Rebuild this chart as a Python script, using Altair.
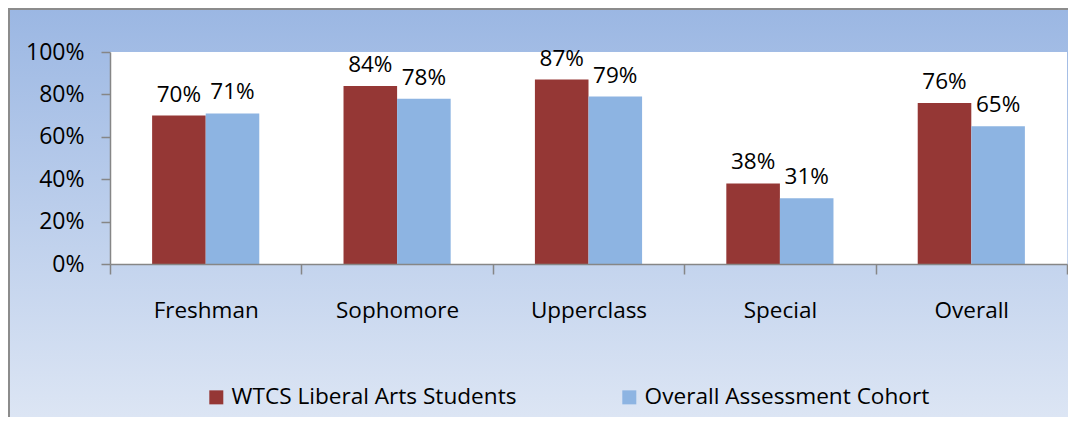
import altair as alt
import pandas as pd

categories = ["Freshman", "Sophomore", "Upperclass", "Special", "Overall"]
series = ["WTCS Liberal Arts Students", "Overall Assessment Cohort"]
wtcs = [0.70, 0.84, 0.87, 0.38, 0.76]
cohort = [0.71, 0.78, 0.79, 0.31, 0.65]
colors = ["#953735", "#8DB4E2"]
y_ticks = [0, 0.2, 0.4, 0.6, 0.8, 1.0]

rows = []
for c, a, b in zip(categories, wtcs, cohort):
    rows.append({"cat": c, "series": series[0], "value": a})
    rows.append({"cat": c, "series": series[1], "value": b})
df = pd.DataFrame(rows)

W, H = 957, 212
FONT = "Open Sans"
FS = 22.5

one = pd.DataFrame({"k": [0]})

bg = alt.Chart(one).mark_rect(
    fill=alt.Gradient(
        gradient="linear",
        stops=[alt.GradientStop(color="#9BB7E3", offset=0),
               alt.GradientStop(color="#E0E8F5", offset=1)],
        x1=0, x2=0, y1=0, y2=1),
    stroke="#8C8C8C", strokeWidth=2,
).encode(x=alt.value(-101), x2=alt.value(975), y=alt.value(-43), y2=alt.value(390))

plot_bg = alt.Chart(one).mark_rect(fill="white").encode(
    x=alt.value(0), x2=alt.value(W), y=alt.value(0), y2=alt.value(H))

x_enc = alt.X("cat:N", sort=categories,
              scale=alt.Scale(paddingInner=0, paddingOuter=0),
              axis=alt.Axis(title=None, labelAngle=0, tickBand="extent",
                            labelFont=FONT, labelFontSize=FS, labelColor="black",
                            labelPadding=25, tickSize=10, tickColor="#868686",
                            tickWidth=1.5, domainColor="#868686", domainWidth=1.5,
                            zindex=1))
xoff = alt.XOffset("series:N", sort=series,
                   scale=alt.Scale(paddingInner=0, paddingOuter=0.786))
y_enc = alt.Y("value:Q", scale=alt.Scale(domain=[0, 1], nice=False),
              axis=alt.Axis(title=None, format=".0%", values=y_ticks, grid=False,
                            labelFont=FONT, labelFontSize=23, labelColor="black",
                            labelPadding=17, tickSize=9, tickColor="#868686",
                            tickWidth=1.5, domainColor="#868686", domainWidth=1.5,
                            zindex=1))

base = alt.Chart(df)
bars = base.mark_bar().encode(
    x=x_enc, xOffset=xoff, y=y_enc,
    color=alt.Color("series:N", sort=series,
                    scale=alt.Scale(domain=series, range=colors),
                    legend=alt.Legend(title=None, orient="none", legendX=95, legendY=334,
                                      direction="horizontal", symbolType="square",
                                      symbolSize=196, symbolStrokeWidth=0,
                                      labelFont=FONT, labelFontSize=22.6, labelLimit=0,
                                      labelColor="black", labelOffset=4,
                                      columnPadding=101, zindex=1)),
)
labels = base.mark_text(baseline="bottom", dy=-9, font=FONT, fontSize=FS,
                        color="black").encode(
    x=x_enc, xOffset=xoff, y=y_enc,
    text=alt.Text("value:Q", format=".0%"))

chart = alt.layer(bg, plot_bg, bars, labels).properties(
    width=W, height=H,
    padding={"left": 102, "top": 44, "right": 1, "bottom": 153},
    autosize=alt.AutoSizeParams(type="none"),
).configure_view(stroke=None)

chart.save("out.html", embed_options={"renderer": "svg", "actions": False})
